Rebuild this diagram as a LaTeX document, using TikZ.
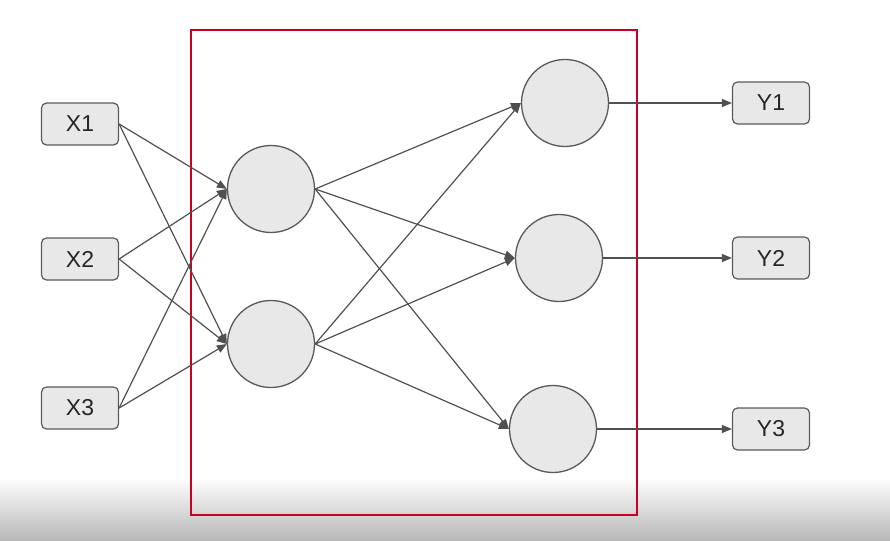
\documentclass[tikz,border=0pt]{standalone}
\usepackage{fontspec}
\setmainfont{Liberation Sans}
\usetikzlibrary{arrows.meta}
\definecolor{boxfill}{HTML}{E8E8E8}
\definecolor{boxline}{HTML}{5A5A5A}
\definecolor{edgeline}{HTML}{505050}
\definecolor{framered}{HTML}{C80022}

\begin{document}
\begin{tikzpicture}[x=1pt,y=-1pt,
	iobox/.style={draw=boxline, fill=boxfill, line width=1.2pt, rounded corners=5pt,
		minimum width=77pt, minimum height=42pt, inner sep=0pt, font=\fontsize{23}{25}\selectfont, text=black!85},
	unit/.style={circle, draw=boxline, fill=boxfill, line width=1.3pt, minimum size=87pt, inner sep=0pt},
	link/.style={draw=edgeline, line width=1.2pt, -{Triangle[length=10pt,width=8pt]}}]
			\useasboundingbox (0,0) rectangle (890,540);
			\shade[top color=white, bottom color=black!28] (0,478) rectangle (890,540);
			\draw[framered, line width=2.2pt] (191,30) rectangle (637,515);
			% inputs
			\node[iobox] (x1) at (80,124) {X1};
			\node[iobox] (x2) at (80,259) {X2};
			\node[iobox] (x3) at (80,408) {X3};
			% hidden
			\node[unit] (h1) at (271,189) {};
			\node[unit] (h2) at (271,344) {};
			% outputs
			\node[unit] (o1) at (565,103) {};
			\node[unit] (o2) at (559,258) {};
			\node[unit] (o3) at (553,429) {};
			\node[iobox] (y1) at (771,103) {Y1};
			\node[iobox] (y2) at (771,258) {Y2};
			\node[iobox] (y3) at (771,429) {Y3};
			\foreach \i in {1,2,3}{
				\draw[link] (x\i.east) -- (h1.west);
				\draw[link] (x\i.east) -- (h2.west);
				\draw[link] (h1.east) -- (o\i.west);
				\draw[link] (h2.east) -- (o\i.west);
				\draw[link] (o\i.east) -- (y\i.west);
			}
\end{tikzpicture}
\end{document}
